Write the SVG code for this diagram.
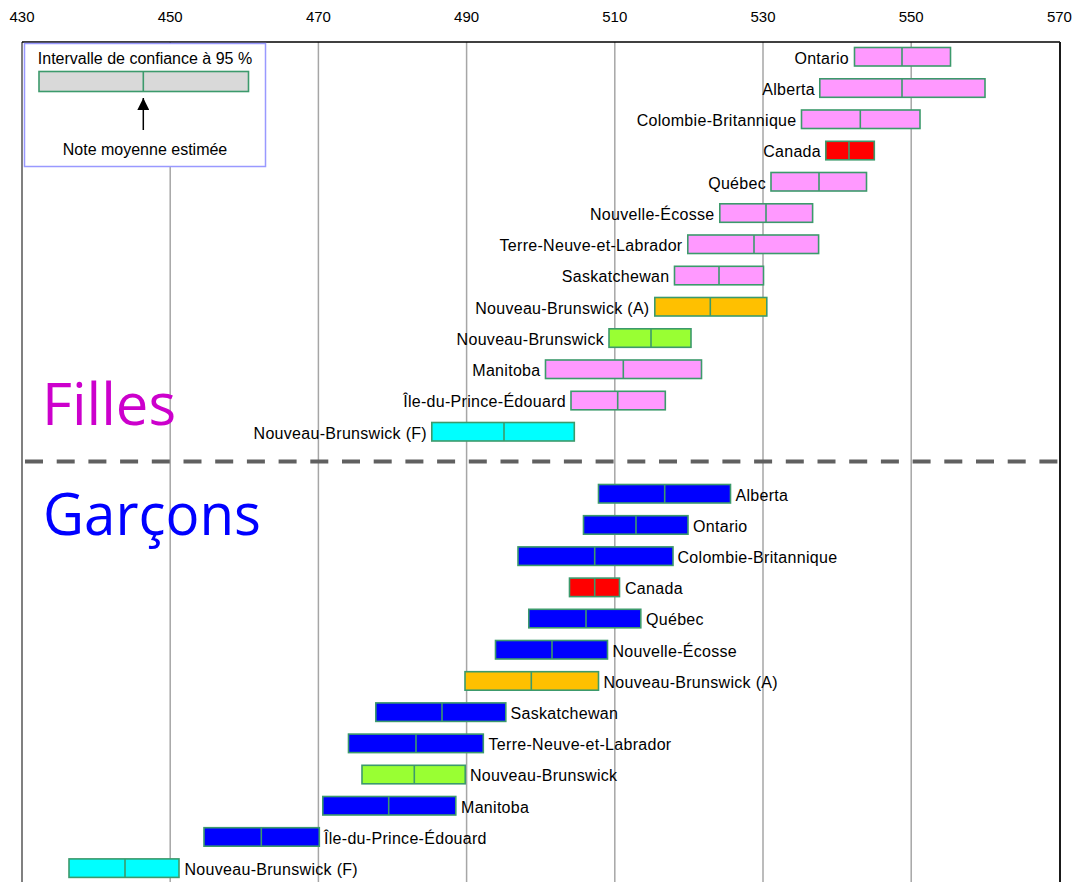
<svg xmlns="http://www.w3.org/2000/svg" width="1078" height="882" viewBox="0 0 1078 882">
<defs>
<style>
.ax{font-family:"Liberation Sans",Arial,sans-serif;font-size:15px;fill:#000;text-anchor:middle}
.lb{font-family:"Liberation Sans",Arial,sans-serif;font-size:16px;fill:#000;letter-spacing:0.3px}
.fl text{text-anchor:end}
.grid{stroke:#a6a6a6;stroke-width:1.5}
.bar{stroke:#3c9a6c;stroke-width:1.6}
.pk{fill:#ff99ff}.rd{fill:#ff0000}.or{fill:#ffc000}.gr{fill:#99ff33}.cy{fill:#00ffff}.bl{fill:#0000ff}.gy{fill:#d9d9d9}
.big{font-family:"Open Sans","Noto Sans",sans-serif;font-size:58px}
</style>
<marker id="ah" viewBox="0 0 10 10" refX="10" refY="5" markerWidth="12" markerHeight="12" markerUnits="userSpaceOnUse" orient="auto">
<path d="M0,0 L10,5 L0,10 z" fill="#000"/>
</marker>
</defs>
<rect width="1078" height="882" fill="#fff"/>
<g id="axis">
<text class="ax" x="22" y="22">430</text>
<text class="ax" x="170.2" y="22">450</text>
<text class="ax" x="318.4" y="22">470</text>
<text class="ax" x="466.6" y="22">490</text>
<text class="ax" x="614.8" y="22">510</text>
<text class="ax" x="763" y="22">530</text>
<text class="ax" x="911.2" y="22">550</text>
<text class="ax" x="1059.4" y="22">570</text>
<line class="grid" x1="170.2" y1="42" x2="170.2" y2="882"/>
<line class="grid" x1="318.4" y1="42" x2="318.4" y2="882"/>
<line class="grid" x1="466.6" y1="42" x2="466.6" y2="882"/>
<line class="grid" x1="614.8" y1="42" x2="614.8" y2="882"/>
<line class="grid" x1="763" y1="42" x2="763" y2="882"/>
<line class="grid" x1="911.2" y1="42" x2="911.2" y2="882"/>
<line x1="22" y1="42" x2="22" y2="882" stroke="#808080" stroke-width="2"/>
<line x1="22" y1="42" x2="1060" y2="42" stroke="#000" stroke-width="1.5"/>
<line x1="1060" y1="42" x2="1060" y2="882" stroke="#1a1a1a" stroke-width="2"/>
</g>
<g id="divider">
<line x1="25" y1="461.5" x2="1059" y2="461.5" stroke="#606060" stroke-width="4" stroke-dasharray="18 13.7"/>
</g>
<g id="legend">
<rect x="24.5" y="43.5" width="241" height="123" fill="#fff" stroke="#9999ff" stroke-width="1.5"/>
<text class="lb" x="145" y="63.5" text-anchor="middle" style="letter-spacing:0">Intervalle de confiance à 95 %</text>
<rect class="bar gy" x="39" y="71.5" width="209.5" height="20"/>
<line class="bar" x1="143.3" y1="71.5" x2="143.3" y2="91.5"/>
<line x1="143.3" y1="130" x2="143.3" y2="98" stroke="#000" stroke-width="1.5" marker-end="url(#ah)"/>
<text class="lb" x="145" y="155" text-anchor="middle" style="letter-spacing:0">Note moyenne estimée</text>
</g>
<g id="titles">
<text class="big" x="42" y="425" fill="#cc00cc">Filles</text>
<text class="big" x="43" y="535" fill="#0000ff" textLength="218" lengthAdjust="spacingAndGlyphs">Garçons</text>
</g>
<g id="filles" class="fl">
<g id="f-ontario"><rect class="bar pk" x="854.5" y="47.5" width="96" height="18.5"/><line class="bar" x1="902" y1="47.5" x2="902" y2="66"/><text class="lb" x="849" y="63.5">Ontario</text></g>
<g id="f-alberta"><rect class="bar pk" x="819.8" y="78.8" width="165.2" height="18.5"/><line class="bar" x1="902" y1="78.8" x2="902" y2="97.3"/><text class="lb" x="815" y="94.8">Alberta</text></g>
<g id="f-cb"><rect class="bar pk" x="801.5" y="110" width="118.5" height="18.5"/><line class="bar" x1="860.3" y1="110" x2="860.3" y2="128.5"/><text class="lb" x="796.5" y="126">Colombie-Britannique</text></g>
<g id="f-canada"><rect class="bar rd" x="825.8" y="141.3" width="48.5" height="18.5"/><line class="bar" x1="849" y1="141.3" x2="849" y2="159.8"/><text class="lb" x="821" y="157.3">Canada</text></g>
<g id="f-quebec"><rect class="bar pk" x="771" y="172.5" width="95.5" height="18.5"/><line class="bar" x1="819" y1="172.5" x2="819" y2="191"/><text class="lb" x="766" y="188.5">Québec</text></g>
<g id="f-ne"><rect class="bar pk" x="719.8" y="203.8" width="92.8" height="18.5"/><line class="bar" x1="766" y1="203.8" x2="766" y2="222.3"/><text class="lb" x="714.5" y="219.8">Nouvelle-Écosse</text></g>
<g id="f-tnl"><rect class="bar pk" x="687.8" y="235" width="130.8" height="18.5"/><line class="bar" x1="754" y1="235" x2="754" y2="253.5"/><text class="lb" x="682.5" y="251">Terre-Neuve-et-Labrador</text></g>
<g id="f-sask"><rect class="bar pk" x="674.5" y="266.3" width="89" height="18.5"/><line class="bar" x1="719" y1="266.3" x2="719" y2="284.8"/><text class="lb" x="669.5" y="282.3">Saskatchewan</text></g>
<g id="f-nba"><rect class="bar or" x="654.8" y="297.5" width="112" height="18.5"/><line class="bar" x1="710.3" y1="297.5" x2="710.3" y2="316"/><text class="lb" x="649.5" y="313.5">Nouveau-Brunswick (A)</text></g>
<g id="f-nb"><rect class="bar gr" x="609" y="328.8" width="82" height="18.5"/><line class="bar" x1="651" y1="328.8" x2="651" y2="347.3"/><text class="lb" x="604" y="344.8">Nouveau-Brunswick</text></g>
<g id="f-manitoba"><rect class="bar pk" x="545.5" y="360" width="156" height="18.5"/><line class="bar" x1="623.3" y1="360" x2="623.3" y2="378.5"/><text class="lb" x="540.5" y="376">Manitoba</text></g>
<g id="f-ipe"><rect class="bar pk" x="571" y="391.3" width="94.3" height="18.5"/><line class="bar" x1="617.7" y1="391.3" x2="617.7" y2="409.8"/><text class="lb" x="566" y="407.3">Île-du-Prince-Édouard</text></g>
<g id="f-nbf"><rect class="bar cy" x="431.8" y="422.5" width="142.5" height="18.5"/><line class="bar" x1="504" y1="422.5" x2="504" y2="441"/><text class="lb" x="427" y="438.5">Nouveau-Brunswick (F)</text></g>
</g>
<g id="garcons">
<g id="g-alberta"><rect class="bar bl" x="598.5" y="484.5" width="132" height="18.5"/><line class="bar" x1="664.7" y1="484.5" x2="664.7" y2="503"/><text class="lb" x="735.5" y="500.5">Alberta</text></g>
<g id="g-ontario"><rect class="bar bl" x="583.5" y="515.7" width="104.5" height="18.5"/><line class="bar" x1="636" y1="515.7" x2="636" y2="534.2"/><text class="lb" x="693" y="531.7">Ontario</text></g>
<g id="g-cb"><rect class="bar bl" x="518" y="546.9" width="155" height="18.5"/><line class="bar" x1="594.7" y1="546.9" x2="594.7" y2="565.4"/><text class="lb" x="677.5" y="562.9">Colombie-Britannique</text></g>
<g id="g-canada"><rect class="bar rd" x="569.5" y="578.1" width="50" height="18.5"/><line class="bar" x1="594.7" y1="578.1" x2="594.7" y2="596.6"/><text class="lb" x="625" y="594.1">Canada</text></g>
<g id="g-quebec"><rect class="bar bl" x="528.8" y="609.3" width="112" height="18.5"/><line class="bar" x1="586" y1="609.3" x2="586" y2="627.8"/><text class="lb" x="646" y="625.3">Québec</text></g>
<g id="g-ne"><rect class="bar bl" x="495.5" y="640.5" width="112" height="18.5"/><line class="bar" x1="552" y1="640.5" x2="552" y2="659"/><text class="lb" x="612.5" y="656.5">Nouvelle-Écosse</text></g>
<g id="g-nba"><rect class="bar or" x="465" y="671.7" width="133.5" height="18.5"/><line class="bar" x1="531.3" y1="671.7" x2="531.3" y2="690.2"/><text class="lb" x="603.5" y="687.7">Nouveau-Brunswick (A)</text></g>
<g id="g-sask"><rect class="bar bl" x="375.8" y="702.9" width="130" height="18.5"/><line class="bar" x1="442" y1="702.9" x2="442" y2="721.4"/><text class="lb" x="510.5" y="718.9">Saskatchewan</text></g>
<g id="g-tnl"><rect class="bar bl" x="348.5" y="734.1" width="134.8" height="18.5"/><line class="bar" x1="416" y1="734.1" x2="416" y2="752.6"/><text class="lb" x="488.5" y="750.1">Terre-Neuve-et-Labrador</text></g>
<g id="g-nb"><rect class="bar gr" x="362" y="765.3" width="103.2" height="18.5"/><line class="bar" x1="414.3" y1="765.3" x2="414.3" y2="783.8"/><text class="lb" x="470" y="781.3">Nouveau-Brunswick</text></g>
<g id="g-manitoba"><rect class="bar bl" x="322.8" y="796.5" width="133" height="18.5"/><line class="bar" x1="388.7" y1="796.5" x2="388.7" y2="815"/><text class="lb" x="461" y="812.5">Manitoba</text></g>
<g id="g-ipe"><rect class="bar bl" x="204" y="827.7" width="115.3" height="18.5"/><line class="bar" x1="261.3" y1="827.7" x2="261.3" y2="846.2"/><text class="lb" x="324" y="843.7">Île-du-Prince-Édouard</text></g>
<g id="g-nbf"><rect class="bar cy" x="69" y="858.9" width="110" height="18.5"/><line class="bar" x1="125" y1="858.9" x2="125" y2="877.4"/><text class="lb" x="184.5" y="874.9">Nouveau-Brunswick (F)</text></g>
</g>
</svg>
